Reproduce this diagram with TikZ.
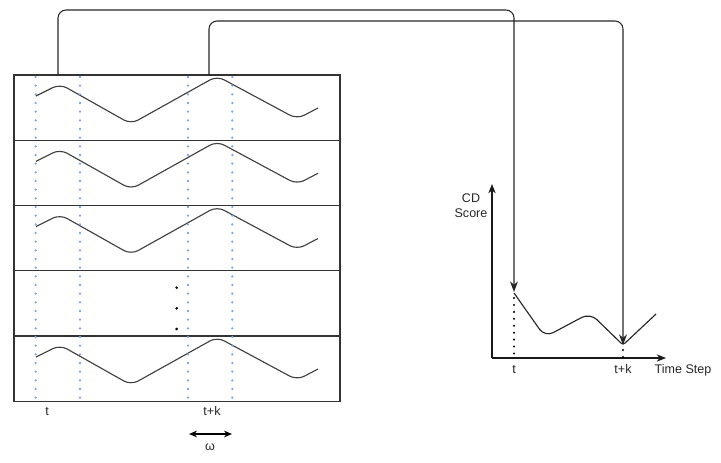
\documentclass[tikz,border=0pt]{standalone}
\usepackage{fontspec}
\setmainfont{Liberation Sans}
\usetikzlibrary{arrows.meta}
\definecolor{dotblue}{HTML}{7EA6E0}
\begin{document}
\begin{tikzpicture}[x=0.75pt,y=-0.75pt,
  frame/.style={draw=black!80, line width=0.9pt},
  wave/.style={draw=black!75, line width=0.85pt, rounded corners=6pt},
  bluedots/.style={draw=dotblue, line width=1.9pt, line cap=round, dash pattern=on 0pt off 6.5pt},
  blackdots/.style={draw=black, line width=1.7pt, line cap=round, dash pattern=on 0pt off 5.2pt},
  conn/.style={draw=black!85, line width=0.8pt, rounded corners=6pt, -{Stealth[length=8pt,width=6pt]}},
  axis/.style={draw=black!90, line width=0.8pt, -{Stealth[length=7pt,width=5.5pt]}},
  lbl/.style={font=\fontsize{9.4}{10.5}\selectfont, text=black!85, inner sep=0pt}]
\useasboundingbox (0,0) rectangle (721,462);

% rows
\foreach \i/\t in {1/75, 2/140.25, 3/205.5, 4/270.75, 5/336}{
  \path[frame] (14,\t) rectangle (340,\t+65.25);
}
% waves
\foreach \t in {75, 140.25, 205.5, 336}{
  \draw[wave] (36,\t+21) -- (60,\t+9) -- (131,\t+49) -- (217,\t+1) -- (297,\t+44) -- (318,\t+33);
}
% ellipsis dots in row 4
\foreach \yy in {287.7, 308.3, 329}{
  \fill[black] (176.7,\yy) circle (1.1pt);
}
% blue dotted lines
\foreach \xx in {35.7, 80, 188, 232.3}{
  \draw[bluedots] (\xx,77) -- (\xx,401);
}
% bottom labels
\node[lbl] (lt) at (47,411) {t};
\node[lbl] (ltk) at (212,411) {t+k};
\coordinate (wa) at (189,434);
\coordinate (wb) at (232,434);
\draw[black, line width=0.9pt, {Stealth[length=6pt,width=5pt]}-{Stealth[length=6pt,width=5pt]}] (wa) -- (wb);
\node[lbl] (lw) at (210,447) {ω};

% chart axes
\coordinate (O) at (492,358);
\coordinate (ytop) at (492,184);
\coordinate (xend) at (666,358);
\draw[axis] (O) -- (ytop);
\draw[axis] (O) -- (xend);
\node[lbl, align=center] (cd) at (471,206) {CD\\[1pt]Score};
\node[lbl] (ts) at (683,370) {Time Step};
\node[lbl] (ct) at (514,369) {t};
\node[lbl] (ctk) at (623,369) {t+k};

% score curve
\coordinate (p1) at (514,293);
\coordinate (p4) at (623,345);
\draw[draw=black!85, line width=0.85pt, rounded corners=7pt] (p1) -- (545,337) -- (590,313) [rounded corners=2pt] -- (p4) -- (656,314);

% black dotted drops
\draw[blackdots] (514,298) -- (514,357);
\draw[blackdots] (623,350) -- (623,357);

% connectors
\coordinate (s1) at (58,75);
\coordinate (s2) at (209,75);
\coordinate (e1) at (514,292);
\coordinate (e2) at (623,345);
\draw[conn] (s1) -- (58,10) -| (e1);
\draw[conn] (s2) -- (209,21) -| (e2);
\end{tikzpicture}
\end{document}
